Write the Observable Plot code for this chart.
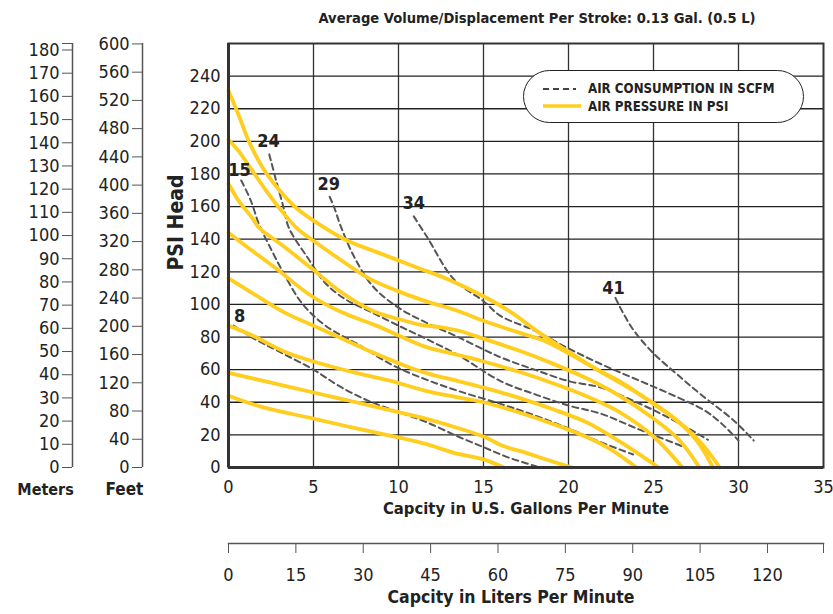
<!DOCTYPE html>
<html>
<head>
<meta charset="utf-8">
<script src="https://cdn.jsdelivr.net/npm/d3@7"></script>
<script src="https://cdn.jsdelivr.net/npm/@observablehq/plot@0.6"></script>
<style>
  html, body { margin: 0; padding: 0; background: #fff; }
  #wrap { position: relative; width: 833px; height: 614px; overflow: hidden; font-family: "Liberation Sans Narrow", "Arial Narrow", "DejaVu Sans Condensed", sans-serif; color: #222; }
  #wrap > svg { position: absolute; }
  .title { position: absolute; left: 287px; width: 500px; top: 8px; text-align: center; font-weight: bold; font-size: 14.6px; line-height: 20px; white-space: nowrap; }
  .legend { position: absolute; left: 523px; top: 70px; width: 279px; height: 51px; border: 1.5px solid #222; border-radius: 27px; background: #fff; }
  .legend svg { position: absolute; left: 0; top: 0; }
  .legend .lt { position: absolute; left: 64px; font-weight: bold; font-size: 13.2px; white-space: nowrap; line-height: 16px; }
</style>
</head>
<body>
<div id="wrap"></div>
<script>
// ---------- data ----------
const titleText = "Average Volume/Displacement Per Stroke: 0.13 Gal. (0.5 L)";
const gpmTicks = [0, 5, 10, 15, 20, 25, 30, 35];
const psiTicks = [0, 20, 40, 60, 80, 100, 120, 140, 160, 180, 200, 220, 240];
const psiGrid = [20, 40, 60, 80, 100, 120, 140, 160, 180, 200, 220, 240];
const meterTicks = [0, 10, 20, 30, 40, 50, 60, 70, 80, 90, 100, 110, 120, 130, 140, 150, 160, 170, 180];
const feetTicks = [0, 40, 80, 120, 160, 200, 240, 280, 320, 360, 400, 440, 480, 520, 560, 600];
const literTicks = [0, 15, 30, 45, 60, 75, 90, 105, 120];

// Air pressure curves (GPM, PSI head)
const press1 = [[0,231],[0.6,216],[1.2,200],[2,184],[3,170],[4,159],[5.5,148],[7,139],[9,131],[11,123],[13,115],[15,105],[16.5,96],[18.5,81],[20,71],[21.7,60],[23,53],[25,39],[26.6,27],[27.8,15],[28.9,0]];
const press2 = [[0,201],[0.6,194],[1.4,182],[2.2,170],[3,159],[4,147],[5,139],[6.5,128],[8.25,116],[10,108],[11.6,102],[13.5,96],[15,90],[17,83],[18.5,78],[20,70],[22,58],[24,46],[26,32],[27.5,17],[28.5,0]];
const press3 = [[0,174],[0.6,163.5],[1.4,153],[1.8,147],[3.2,136],[4.9,122],[6.7,107],[8.5,96],[10,91],[11.3,87.5],[12.5,86],[13.5,84],[15,79],[17,72],[19,64],[21,55],[23,44],[25,30],[26.5,17],[27.7,0]];
const press4 = [[0,144],[1,136],[2.8,122],[4.9,105],[6.7,95],[8.7,87],[10,81],[11.6,74],[13.5,69],[15,65],[17,59],[19,52],[21,44],[23,34],[25,19],[26.7,0]];
const press5 = [[0,116],[1.4,107],[3.3,95],[5,87],[6.7,79],[8.6,70],[10,64],[11.6,58],[13.5,53],[15,49],[17,43],[19,36],[21,28],[23,16],[25.3,0]];
const press6 = [[0,87],[1.4,81],[3.3,71],[5,65],[7.5,58],[9.6,53],[11.6,47],[13.5,43],[15,40],[17,34],[19,27],[21,19],[22.5,11],[24,0]];
const press7 = [[0,58],[2.5,52],[5,46],[7.5,40],[10,34],[11.6,30],[13.25,25],[15,19],[16.2,13],[17.5,9],[18.5,5.5],[20.2,0]];
const press8 = [[0,44],[2,37],[5,30],[7.5,24],[10,18.5],[11.6,14.5],[13.25,9],[15,5],[16.2,0]];

// Air consumption curves (SCFM)
const scfm8 = [[0.3,87],[1.5,79],[2.8,72],[5,60],[6.5,50],[8.2,41],[10,34],[11.6,28],[13.5,19],[15,12.5],[16.5,6],[18.35,0]];
const scfm15 = [[0.75,176],[1.3,164],[1.8,149],[2.4,136],[3.2,120],[4.3,101],[5.7,87],[7.7,75],[9.6,63],[11.6,54],[13.5,47],[16,39],[18,32],[20,24],[21.9,15.5],[23.8,8]];
const scfm24 = [[2.4,192],[2.8,176],[3.25,159],[3.55,147],[4.7,128],[5.7,113],[6.9,103],[8.25,96],[10,87],[11.6,79],[13.5,69],[16,53],[18,45],[20,38],[21.9,33],[24,24],[26.7,13]];
const scfm29 = [[5.95,166],[6.2,160],[6.6,148],[7.4,129],[8.5,111],[10,98],[11.6,89],[13.5,80],[16,67.6],[18,60],[20,53],[21.9,49],[24,40],[26,30],[28.2,17]];
const scfm34 = [[10.9,154],[11.7,141],[13.25,115.5],[15,102],[16,93],[18,84],[20,73],[22,63],[24,54],[26,45],[28,35],[29,27],[30,16.5]];
const scfm41 = [[22.76,104],[23.2,95],[23.84,84],[25,70],[26.4,57],[27.76,45],[29.7,29],[30.9,16.5]];

const scfmNames = ["8", "15", "24", "29", "34", "41"];
const scfmLabelGpm = [0.65, 0.65, 2.35, 5.9, 10.9, 22.65];
const scfmLabelPsi = [93, 182, 200, 174, 162, 110];

// ---------- build ----------
const FONT = '"Liberation Sans Narrow", "Arial Narrow", "DejaVu Sans Condensed", sans-serif';
const toRows = (name, arr) => arr.map(([g, p]) => ({series: name, gpm: g, psi: p}));
const pressRows = [press1, press2, press3, press4, press5, press6, press7, press8]
  .flatMap((a, i) => toRows("p" + i, a));
const scfmRows = [scfm8, scfm15, scfm24, scfm29, scfm34, scfm41]
  .flatMap((a, i) => toRows(scfmNames[i], a));
const scfmLabels = scfmNames.map((n, i) => ({text: n, gpm: scfmLabelGpm[i], psi: scfmLabelPsi[i]}));

const wrap = document.getElementById("wrap");
const baseStyle = {fontFamily: FONT, fontSize: "18px", color: "#222", background: "transparent", overflow: "visible"};

// meters axis
const meters = Plot.plot({
  width: 100, height: 530, marginLeft: 72, marginRight: 28, marginTop: 43, marginBottom: 63,
  style: baseStyle,
  x: {domain: [0, 1], axis: null},
  y: {domain: [0, 182.8]},
  marks: [
    Plot.ruleX([0], {stroke: "#555", strokeWidth: 1.5}),
    Plot.axisY({ticks: [...meterTicks, 182.8], tickFormat: d => d > 181 ? "" : d, tickSize: 10, tickPadding: 3, label: null, stroke: "#555"}),
    Plot.text(["Meters"], {frameAnchor: "bottom-left", dx: -27, dy: 27, textAnchor: "middle", fontWeight: "bold", fontSize: 16})
  ]
});
meters.style.left = "0px"; meters.style.top = "0px";
wrap.appendChild(meters);

// feet axis
const feet = Plot.plot({
  width: 170, height: 530, marginLeft: 142, marginRight: 28, marginTop: 43, marginBottom: 63,
  style: baseStyle,
  x: {domain: [0, 1], axis: null},
  y: {domain: [0, 600.6]},
  marks: [
    Plot.ruleX([0], {stroke: "#555", strokeWidth: 1.5}),
    Plot.axisY({ticks: feetTicks, tickSize: 10, tickPadding: 3, label: null, stroke: "#555"}),
    Plot.text(["Feet"], {frameAnchor: "bottom-left", dx: -18, dy: 27, textAnchor: "middle", fontWeight: "bold", fontSize: 17})
  ]
});
feet.style.left = "0px"; feet.style.top = "0px";
wrap.appendChild(feet);

// main chart
const main = Plot.plot({
  width: 833, height: 530, marginLeft: 228, marginRight: 10, marginTop: 43, marginBottom: 63,
  style: baseStyle,
  x: {domain: [0, 35]},
  y: {domain: [0, 260]},
  marks: [
    Plot.ruleX(gpmTicks.slice(1, -1), {stroke: "#333", strokeWidth: 1.3}),
    Plot.ruleY(psiGrid, {stroke: "#222", strokeWidth: 1.3}),
    Plot.line(scfmRows, {x: "gpm", y: "psi", z: "series", stroke: "#555", strokeWidth: 2, strokeDasharray: "6,4", curve: "catmull-rom"}),
    Plot.line(pressRows, {x: "gpm", y: "psi", z: "series", stroke: "#FFCE1F", strokeWidth: 3.8, curve: "catmull-rom"}),
    Plot.text(scfmLabels, {x: "gpm", y: "psi", text: "text", fontWeight: "bold", fontSize: 18, fill: "#222", textAnchor: "middle"}),
    Plot.frame({stroke: "#333", strokeWidth: 2}),
    Plot.ruleX([0], {stroke: "#333", strokeWidth: 3}),
    Plot.ruleY([0], {stroke: "#333", strokeWidth: 3}),
    Plot.axisX({ticks: gpmTicks, tickSize: 0, tickPadding: 13, label: null}),
    Plot.axisY({ticks: psiTicks, tickSize: 0, tickPadding: 8, label: null}),
    Plot.text(["Capcity in U.S. Gallons Per Minute"], {frameAnchor: "bottom", dy: 46, textAnchor: "middle", fontWeight: "bold", fontSize: 16.5}),
    Plot.text(["PSI Head"], {frameAnchor: "left", dx: -52, dy: -33, rotate: -90, textAnchor: "middle", fontWeight: "bold", fontSize: 21})
  ]
});
main.style.left = "0px"; main.style.top = "0px";
wrap.appendChild(main);

// liters axis
const liters = Plot.plot({
  width: 833, height: 84, marginLeft: 228, marginRight: 10, marginTop: 0, marginBottom: 71,
  style: baseStyle,
  x: {domain: [0, 35 * 3.785]},
  y: {domain: [0, 1], axis: null},
  marks: [
    Plot.frame({anchor: "bottom", stroke: "#555", strokeWidth: 1.5}),
    Plot.axisX({ticks: [...literTicks, 35 * 3.785], tickFormat: d => d > 125 ? "" : d, tickSize: 10, tickPadding: 15, label: null, stroke: "#555"}),
    Plot.text(["Capcity in Liters Per Minute"], {frameAnchor: "bottom", dx: -15, dy: 59, textAnchor: "middle", fontWeight: "bold", fontSize: 17.5})
  ]
});
liters.style.left = "0px"; liters.style.top = "530px";
wrap.appendChild(liters);

// title
const t = document.createElement("div");
t.className = "title";
t.textContent = titleText;
wrap.appendChild(t);

// legend
const lg = document.createElement("div");
lg.className = "legend";
lg.innerHTML = `
<svg width="279" height="51">
  <line x1="19" y1="18" x2="52" y2="18" stroke="#444" stroke-width="2" stroke-dasharray="6,4"/>
  <line x1="19" y1="35" x2="57" y2="35" stroke="#FFCE1F" stroke-width="3.6"/>
</svg>
<div class="lt" style="top:10px">AIR CONSUMPTION IN SCFM</div>
<div class="lt" style="top:28px">AIR PRESSURE IN PSI</div>`;
wrap.appendChild(lg);
</script>
</body>
</html>
